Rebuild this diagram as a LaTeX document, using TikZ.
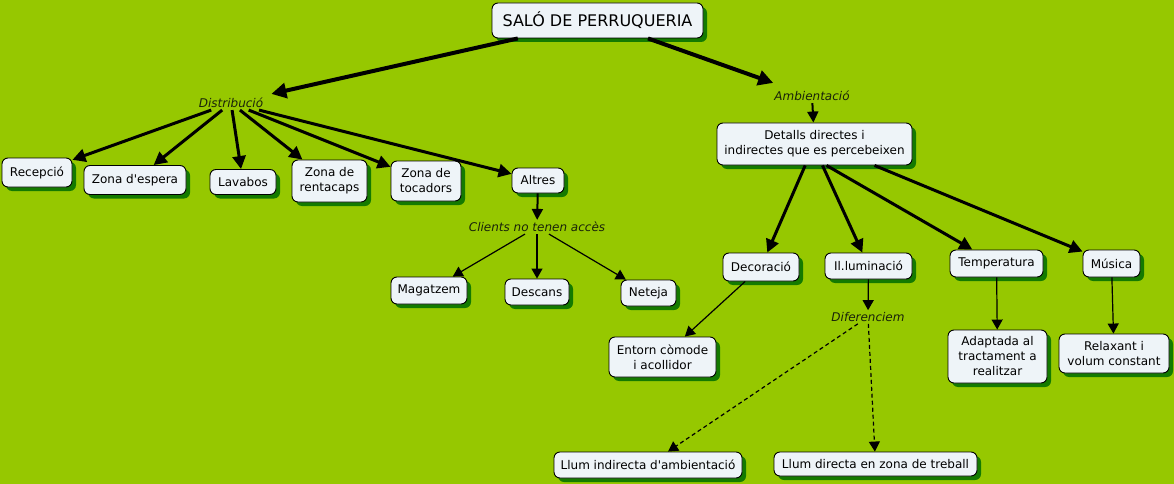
\documentclass[tikz,border=0pt]{standalone}
\usepackage{fontspec}
\setmainfont{DejaVu Sans}[Ligatures=TeXOff]
\usetikzlibrary{arrows.meta,shadows}
\definecolor{bg}{RGB}{150,200,0}
\definecolor{nodefill}{RGB}{238,244,248}
\definecolor{shadowgreen}{RGB}{20,122,0}
\definecolor{labeltext}{RGB}{25,35,10}
\begin{document}
\begin{tikzpicture}[x=1pt,y=-1pt,
  box/.style={draw=black, line width=0.9pt, rounded corners=6pt, fill=nodefill, text=black,
    font=\fontsize{12}{15}\selectfont, align=center, inner sep=2pt,
    drop shadow={shadow xshift=4pt, shadow yshift=-4pt, fill=shadowgreen, opacity=1}},
  lbl/.style={font=\fontsize{12}{15}\selectfont\itshape, text=labeltext, inner sep=2pt},
  thickarr/.style={line width=4pt, -{Triangle[length=15pt,width=15pt]}},
  medarr/.style={line width=3pt, -{Triangle[length=13pt,width=13pt]}},
  smallarr/.style={line width=2pt, -{Triangle[length=11pt,width=11pt]}},
  thinarr/.style={line width=1.2pt, -{Triangle[length=10pt,width=11pt]}},
  dasharr/.style={thinarr, dash pattern=on 4pt off 3pt}]
\fill[bg] (0,0) rectangle (1174,484);
\useasboundingbox (0,0) rectangle (1174,484);

% nodes
\node[box, minimum width=211pt, minimum height=35pt, font=\fontsize{16}{19}\selectfont] (title) at (597.5,20.5) {SALÓ DE PERRUQUERIA};
\node[lbl] (distrib) at (231,103) {Distribució};
\node[lbl] (ambient) at (812,96) {Ambientació};

\node[box, minimum width=70pt, minimum height=29pt] (recep) at (37,172.5) {Recepció};
\node[box, minimum width=102pt, minimum height=29pt] (espera) at (135,180) {Zona d'espera};
\node[box, minimum width=66pt, minimum height=25pt] (lavabos) at (243,182) {Lavabos};
\node[box, minimum width=75pt, minimum height=42pt] (renta) at (329.5,181) {Zona de\\rentacaps};
\node[box, minimum width=70pt, minimum height=40pt] (toca) at (426,181) {Zona de\\tocadors};
\node[box, minimum width=52pt, minimum height=25pt] (altres) at (538,180.5) {Altres};
\node[lbl] (clients) at (537,227) {Clients no tenen accès};
\node[box, minimum width=76pt, minimum height=27pt] (magatzem) at (429,290.5) {Magatzem};
\node[box, minimum width=64pt, minimum height=26pt] (descans) at (537,292) {Descans};
\node[box, minimum width=55pt, minimum height=26pt] (neteja) at (648.5,293) {Neteja};

\node[box, minimum width=195pt, minimum height=42pt] (detalls) at (814.5,144) {Detalls directes i\\indirectes que es percebeixen};
\node[box, minimum width=76pt, minimum height=28pt] (decoracio) at (761,267) {Decoració};
\node[box, minimum width=87pt, minimum height=26pt] (illum) at (868.5,266) {Il.luminació};
\node[box, minimum width=93pt, minimum height=27pt] (temp) at (996.5,263.5) {Temperatura};
\node[box, minimum width=57pt, minimum height=27pt] (musica) at (1111.5,263.5) {Música};
\node[lbl] (difer) at (868,317) {Diferenciem};
\node[box, minimum width=107pt, minimum height=40pt] (entorn) at (662.5,357) {Entorn còmode\\i acollidor};
\node[box, minimum width=188pt, minimum height=26pt] (llumind) at (648,465) {Llum indirecta d'ambientació};
\node[box, minimum width=203pt, minimum height=24pt] (llumdir) at (875.5,464) {Llum directa en zona de treball};
\node[box, minimum width=99pt, minimum height=53pt] (adaptada) at (997.5,356.5) {Adaptada al\\tractament a\\realitzar};
\node[box, minimum width=110pt, minimum height=39pt] (relaxant) at (1114,353.5) {Relaxant i\\volum constant};

% connectors
\draw[thickarr] (title) -- ([xshift=6pt,yshift=2pt]distrib.north east);
\draw[thickarr] (title) -- ([xshift=1pt,yshift=6pt]ambient.north west);
\foreach \t in {recep,espera,lavabos,renta,toca,altres}
  \draw[medarr] (distrib) -- (\t);
\draw[smallarr] (altres) -- (clients);
\foreach \t in {magatzem,descans,neteja}
  \draw[thinarr] (clients) -- (\t);
\draw[smallarr] (ambient) -- (detalls);
\draw[medarr] (detalls) -- (decoracio);
\draw[medarr] ([xshift=8pt]detalls.south) -- (illum);
\draw[medarr] ([xshift=12pt]detalls.south) -- (temp);
\draw[medarr] ([xshift=60pt]detalls.south) -- (musica);
\draw[thinarr] (decoracio) -- (entorn);
\draw[thinarr] (illum) -- (difer);
\draw[dasharr] (difer) -- (llumind);
\draw[dasharr] (difer) -- (llumdir);
\draw[thinarr] (temp) -- (adaptada);
\draw[thinarr] (musica) -- (relaxant);
\end{tikzpicture}
\end{document}
